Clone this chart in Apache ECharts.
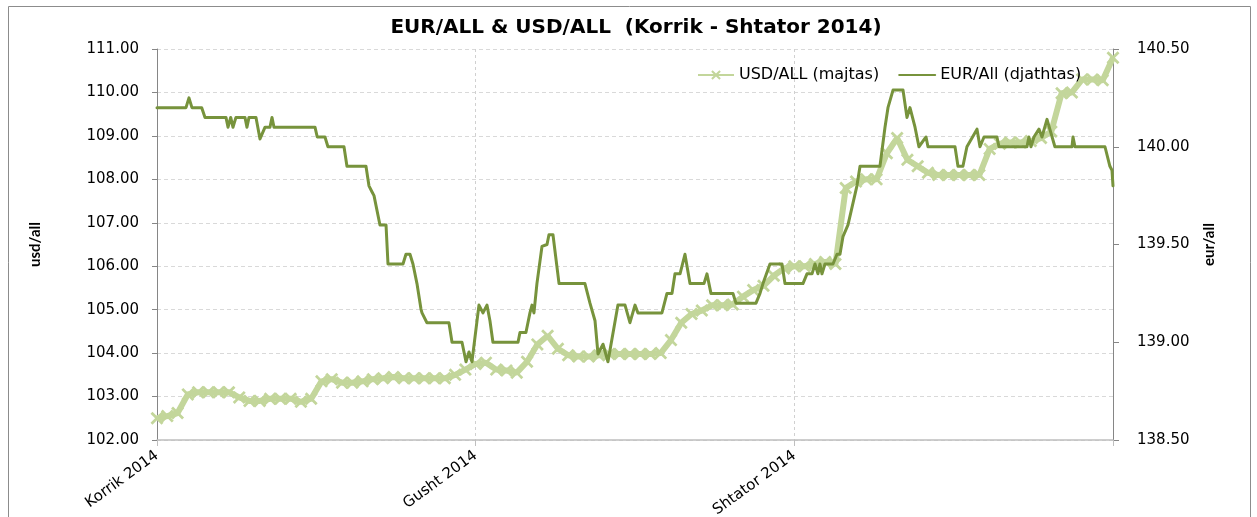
<!DOCTYPE html>
<html><head><meta charset="utf-8">
<script src="https://cdn.jsdelivr.net/npm/echarts@6/dist/echarts.min.js"></script>
<style>html,body{margin:0;padding:0;background:#fff;overflow:hidden;} #c{width:1257px;height:517px;}</style>
</head><body><div id="c"></div>
<script>
const chartTitle = 'EUR/ALL & USD/ALL  (Korrik - Shtator 2014)';
const xTickLabels = ['Korrik 2014', 'Gusht 2014', 'Shtator 2014', ''];
const seriesNames = ['USD/ALL (majtas)', 'EUR/All (djathtas)'];

// USD/ALL daily (day 0 = 1 Korrik 2014)
const usdDay = Array.from({length: 94}, (_, i) => i);
const usdValues = [
  102.50,102.55,102.62,103.05,103.10,103.10,103.10,103.10,102.98,102.90,
  102.90,102.95,102.95,102.95,102.88,102.95,103.35,103.40,103.32,103.32,
  103.35,103.40,103.42,103.45,103.42,103.42,103.42,103.42,103.42,103.50,
  103.62,103.75,103.78,103.62,103.60,103.55,103.80,104.20,104.40,104.10,
  103.95,103.92,103.92,103.95,103.98,103.98,103.98,103.98,103.98,104.00,
  104.30,104.70,104.90,104.98,105.10,105.10,105.12,105.30,105.45,105.55,
  105.78,105.95,106.00,106.00,106.05,106.10,106.05,107.80,107.95,108.00,
  108.00,108.60,108.95,108.45,108.30,108.15,108.10,108.10,108.10,108.10,
  108.10,108.70,108.82,108.85,108.85,108.88,108.95,109.10,109.98,110.00,
  110.30,110.30,110.28,110.80
];

// EUR/ALL (day offsets from 1 Korrik 2014)
const eurDay = [
  0,2.82,3.11,3.40,4.35,4.67,6.71,6.91,7.17,7.39,
  7.68,8.56,8.75,8.95,9.63,10.02,10.51,10.99,11.19,11.38,
  15.37,15.59,16.34,16.63,18.19,18.48,20.33,20.62,20.91,21.11,
  21.69,22.28,22.47,23.93,24.22,24.61,24.90,25.29,25.68,25.78,
  25.97,26.26,28.40,28.70,29.67,30.06,30.35,30.64,31.32,31.71,
  32.10,32.39,32.68,35.12,35.31,35.89,36.28,36.48,36.67,36.96,
  37.45,37.94,38.13,38.52,39.11,41.63,42.12,42.61,42.90,43.39,
  43.87,44.84,45.53,46.01,46.50,46.79,49.12,49.61,50.10,50.39,
  50.88,51.36,51.85,53.21,53.50,53.89,56.03,56.32,58.27,58.66,
  58.95,59.63,60.80,61.09,62.84,63.23,63.72,64.01,64.30,64.49,
  64.69,64.98,65.76,66.15,66.44,66.73,67.22,68.09,68.39,70.33,
  70.82,71.11,71.60,72.57,72.96,73.25,73.74,74.12,74.81,75.00,
  77.63,77.92,78.40,78.79,79.77,80.06,80.45,81.71,81.91,84.63,
  84.82,85.02,85.31,85.80,86.09,86.58,87.35,89.01,89.11,89.30,
  92.22,92.70,92.90,93.00
];
const eurValues = [
  140.20,140.20,140.25,140.20,140.20,140.15,140.15,140.10,140.15,140.10,
  140.15,140.15,140.10,140.15,140.15,140.04,140.10,140.10,140.15,140.10,
  140.10,140.05,140.05,140.00,140.00,139.90,139.90,139.80,139.77,139.75,
  139.60,139.60,139.40,139.40,139.45,139.45,139.40,139.30,139.17,139.15,
  139.15,139.10,139.10,139.00,139.00,138.90,138.95,138.90,139.19,139.15,
  139.19,139.11,139.00,139.00,139.05,139.05,139.15,139.19,139.15,139.30,
  139.49,139.50,139.55,139.55,139.30,139.30,139.20,139.11,138.94,138.99,
  138.90,139.19,139.19,139.10,139.19,139.15,139.15,139.25,139.25,139.35,
  139.35,139.45,139.30,139.30,139.35,139.25,139.25,139.20,139.20,139.25,
  139.30,139.40,139.40,139.30,139.30,139.35,139.35,139.40,139.35,139.40,
  139.35,139.40,139.40,139.45,139.45,139.54,139.60,139.80,139.90,139.90,
  140.10,140.20,140.29,140.29,140.15,140.20,140.10,140.00,140.05,140.00,
  140.00,139.90,139.90,140.00,140.09,140.00,140.05,140.05,140.00,140.00,
  140.05,140.00,140.05,140.09,140.05,140.14,140.00,140.00,140.05,140.00,
  140.00,139.90,139.88,139.80
];

const usdColor = '#c3d69b';
const eurColor = '#77933c';
const crossPath = 'path://M0,1.5L1.5,0L5,3.5L8.5,0L10,1.5L6.5,5L10,8.5L8.5,10L5,6.5L1.5,10L0,8.5L3.5,5Z';

const chart = echarts.init(document.getElementById('c'));
chart.setOption({
  animation: false,
  backgroundColor: '#ffffff',
  title: {
    text: chartTitle,
    left: 631, top: 13, textAlign: 'center',
    textStyle: {fontFamily: 'DejaVu Sans', fontWeight: 'bold', fontSize: 20, color: '#000'}
  },
  legend: {
    data: [
      {name: seriesNames[0]},
      {name: seriesNames[1], itemStyle: {opacity: 0}}
    ],
    left: 697, top: 67, padding: 0,
    itemWidth: 36, itemHeight: 12, itemGap: 19,
    textStyle: {fontFamily: 'DejaVu Sans', fontSize: 16, color: '#000'}
  },
  grid: {left: 157, right: 144, top: 49, bottom: 77, containLabel: false, outerBoundsMode: 'none'},
  xAxis: {
    type: 'value', min: 0, max: 93, interval: 31,
    axisLine: {show: true, lineStyle: {color: '#bfbfbf', width: 1.5}},
    axisTick: {show: true, length: 6, lineStyle: {color: '#bfbfbf'}},
    axisLabel: {
      rotate: 36, margin: 14,
      fontFamily: 'DejaVu Sans', fontSize: 15, color: '#000',
      formatter: v => xTickLabels[Math.round(v / 31)] || ''
    },
    splitLine: {show: true, lineStyle: {color: '#d0d0d0', type: [3, 3]}}
  },
  yAxis: [
    {
      type: 'value', min: 102, max: 111, interval: 1, position: 'left',
      name: 'usd/all', nameLocation: 'middle', nameGap: 114, nameRotate: 90,
      nameTextStyle: {fontFamily: 'Lato', fontWeight: 'bold', fontSize: 15, color: '#000'},
      axisLine: {show: true, lineStyle: {color: '#868686'}},
      axisTick: {show: true, length: 5, lineStyle: {color: '#868686'}},
      axisLabel: {margin: 18, fontFamily: 'DejaVu Sans', fontSize: 15, color: '#000', formatter: v => v.toFixed(2)},
      splitLine: {show: true, lineStyle: {color: '#d9d9d9', type: [4, 3]}}
    },
    {
      type: 'value', min: 138.5, max: 140.5, interval: 0.5, position: 'right',
      name: 'eur/all', nameLocation: 'middle', nameGap: 89, nameRotate: 90,
      nameTextStyle: {fontFamily: 'Lato', fontWeight: 'bold', fontSize: 15, color: '#000'},
      axisLine: {show: true, lineStyle: {color: '#868686'}},
      axisTick: {show: true, length: 6, lineStyle: {color: '#868686'}},
      axisLabel: {margin: 24, fontFamily: 'DejaVu Sans', fontSize: 15, color: '#000', formatter: v => v.toFixed(2)},
      splitLine: {show: false}
    }
  ],
  graphic: [{
    type: 'rect', silent: true, z: -1,
    shape: {x: 8.5, y: 6.5, width: 1242, height: 530},
    style: {fill: 'none', stroke: '#8c8c8c', lineWidth: 1}
  }],
  series: [
    {
      name: seriesNames[0], type: 'line', yAxisIndex: 0, z: 2,
      data: usdDay.map((d, i) => [d, usdValues[i]]),
      symbol: crossPath, symbolSize: 13, showSymbol: true,
      itemStyle: {color: usdColor},
      lineStyle: {color: usdColor, width: 6}
    },
    {
      name: seriesNames[1], type: 'line', yAxisIndex: 1, z: 3,
      data: eurDay.map((d, i) => [d, eurValues[i]]),
      symbol: 'circle', symbolSize: 0, showSymbol: false,
      itemStyle: {color: eurColor},
      lineStyle: {color: eurColor, width: 3, join: 'round', cap: 'round'}
    }
  ]
});
</script></body></html>
